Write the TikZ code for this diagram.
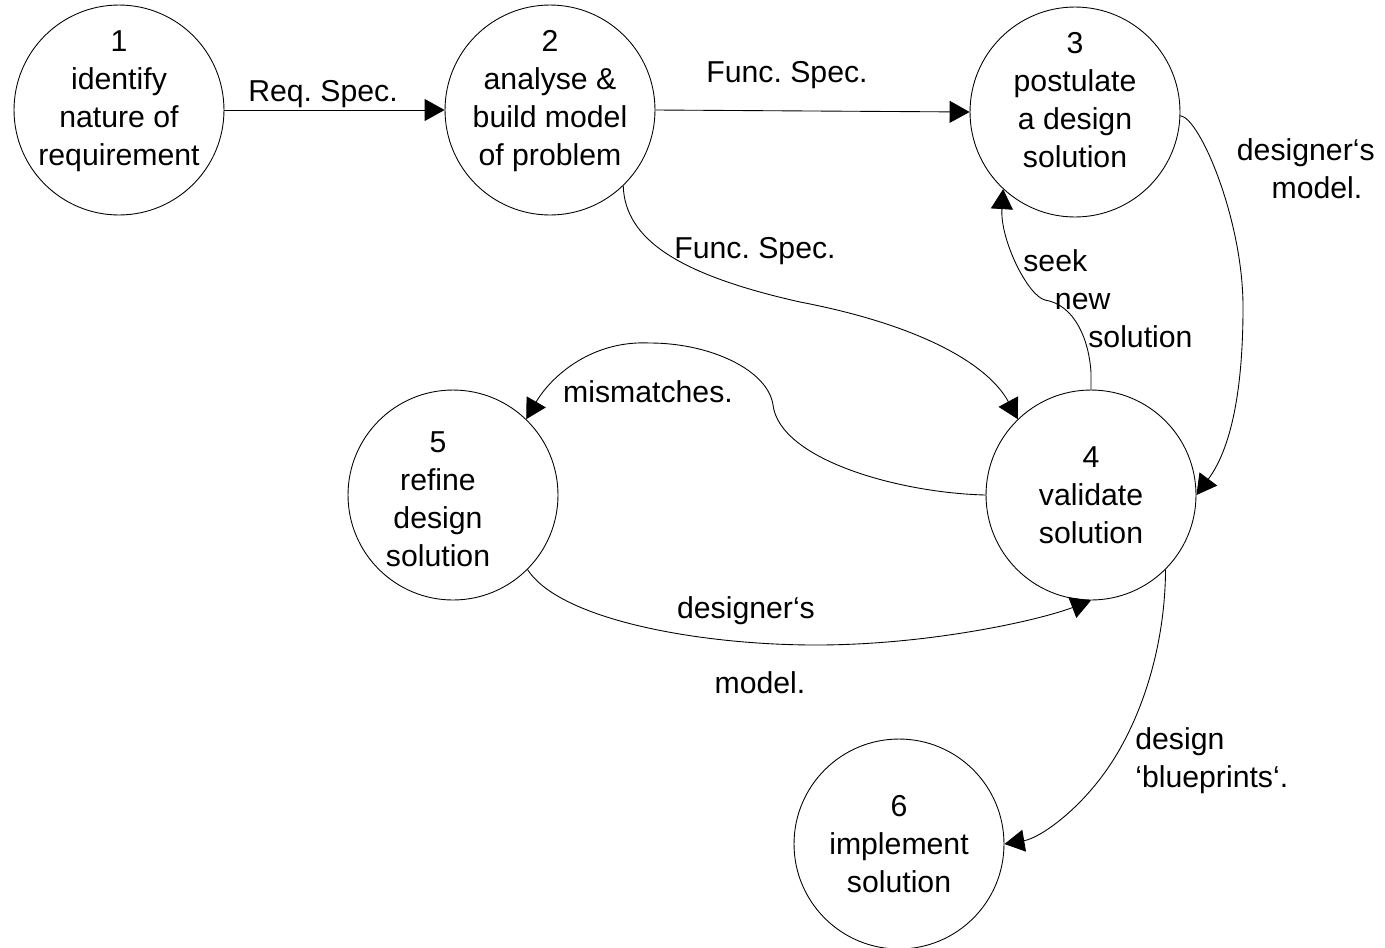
\documentclass[tikz,border=0pt]{standalone}
\usepackage{fontspec}
\setmainfont{Liberation Sans}
\usepackage{tikz}
\usetikzlibrary{arrows.meta}
\tikzset{bubble/.style={circle,draw,line width=0.5pt,minimum size=4.2cm,inner sep=-0.25cm,align=center},
         toprow/.style={text depth=0.48cm},
         flow/.style={-{Triangle[length=0.4cm,width=0.44cm]},line width=0.5pt},
         lbl/.style={inner sep=0pt,anchor=base}}

\begin{document}
\frenchspacing
\begin{tikzpicture}[x=0.02cm,y=-0.02cm,font=\fontsize{17.2pt}{21.6pt}\selectfont]
  \useasboundingbox (0,0) rectangle (1385,947);
  % processes
  \node (p1) [bubble,toprow] at (119,110) {1\\identify\\nature of\\requirement};
  \node (p2) [bubble,toprow] at (550,110) {2\\analyse \&\\build model\\of problem};
  \node (p3) [bubble,toprow] at (1075,112) {3\\postulate\\a design\\solution};
  \node (p4) [bubble] at (1091,495) {4\\validate\\solution};
  \node (p5) [bubble] at (453,495) {};
  \node (t5) [align=center] at (438,499) {5\\refine\\design\\solution};
  \node (p6) [bubble] at (899,844) {6\\implement\\solution};
  % flows along the top
  \draw[flow] (p1.east) -- (p2.west);
  \draw[flow] (p2.east) -- (p3.west);
  \node (reqspec) [lbl] at (323,101) {Req. Spec.};
  \node (funcspecA) [lbl] at (787,82) {Func. Spec.};
  % 2 -> 4
  \draw[flow] (p2.-46) .. controls (625,240) and (680,275) .. (800,302)
              .. controls (920,325) and (988,364) .. (p4.134);
  \node (funcspecB) [lbl] at (755,258) {Func. Spec.};
  % 3 -> 4
  \draw[flow] (p3.-2) .. controls (1200,118) and (1243,220) .. (1243,307)
              .. controls (1243,394) and (1230,450) .. (p4.east);
  \node (dmodelA) [lbl,anchor=base east,align=right] at (1375,198) {designer‘s\\model.\hspace*{7pt}};
  % 4 -> 3
  \draw[flow] (p4.north) -- ++(0,-17) .. controls (1089,340) and (1075,305) .. (1045,300)
              .. controls (1028,296) and (1000,240) .. (p3.-133);
  \node (seek) [lbl,anchor=base west,align=left] at (1023,347)
        {seek\\\hspace*{18pt}new\\\hspace*{37pt}solution};
  % 4 -> 5
  \draw[flow] (p4.west) .. controls (900,493) and (780,460) .. (773,405)
              .. controls (768,370) and (710,343) .. (650,343)
              .. controls (590,340) and (550,378) .. (p5.46);
  \node (mismatch) [lbl] at (648,402) {mismatches.};
  % 5 -> 4
  \draw[flow] (p5.-45) .. controls (560,620) and (700,645) .. (816,645)
              .. controls (930,645) and (1040,620) .. (p4.south);
  \node (dmodelB) [lbl] at (746,618) {designer‘s};
  \node (dmodelC) [lbl] at (760,693) {model.};
  % 4 -> 6
  \draw[flow] (p4.-45) .. controls (1165,650) and (1140,720) .. (1110,765)
              .. controls (1080,810) and (1040,838) .. (p6.east);
  \node (blueprint) [lbl,anchor=base west,align=left] at (1135,787) {design\\‘blueprints‘.};
\end{tikzpicture}
\end{document}
